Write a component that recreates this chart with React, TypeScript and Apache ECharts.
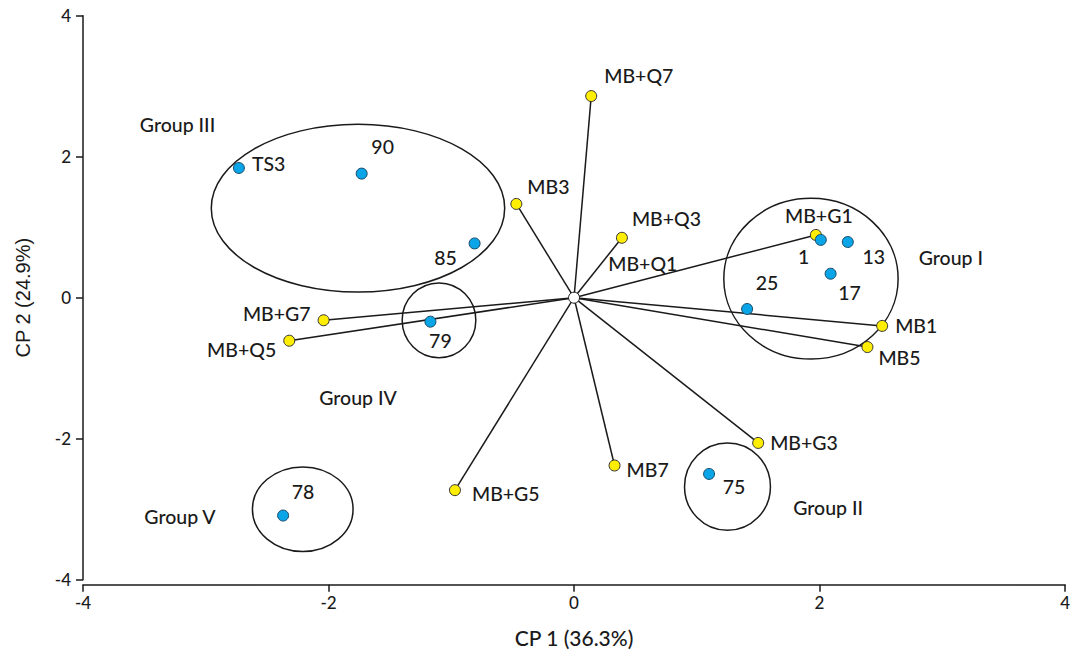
import React, { useEffect, useRef } from "react";
import * as echarts from "echarts";

// Variables (yellow, vectors from origin)
const varNames = ["MB+Q7", "MB3", "MB+Q3", "MB+G1", "MB1", "MB5", "MB+G7", "MB+Q5", "MB+G3", "MB7", "MB+G5"];
const varX = [0.14, -0.47, 0.39, 1.97, 2.51, 2.39, -2.04, -2.32, 1.5, 0.33, -0.97];
const varY = [2.86, 1.33, 0.85, 0.89, -0.4, -0.7, -0.32, -0.61, -2.06, -2.38, -2.73];

// Samples (blue)
const sampleNames = ["TS3", "90", "85", "79", "78", "75", "1", "13", "17", "25"];
const sampleX = [-2.73, -1.73, -0.81, -1.17, -2.37, 1.1, 2.01, 2.23, 2.09, 1.41];
const sampleY = [1.84, 1.76, 0.77, -0.34, -3.09, -2.5, 0.82, 0.79, 0.34, -0.16];

// Group ellipses (centre x, centre y, radius x, radius y in data units)
const groupCx = [1.93, 1.25, -1.76, -1.1, -2.21];
const groupCy = [0.27, -2.68, 1.27, -0.32, -3.0];
const groupRx = [0.71, 0.35, 1.195, 0.3, 0.41];
const groupRy = [1.14, 0.62, 1.19, 0.53, 0.6];

// Free annotations
const noteNames = ["Group I", "Group II", "Group III", "Group IV", "Group V", "MB+Q1"];
const noteX = [3.07, 2.07, -3.23, -1.76, -3.21, 0.56];
const noteY = [0.57, -2.98, 2.45, -1.42, -3.11, 0.48];

// Axis
const axisMin = -4;
const axisMax = 4;
const axisStep = 2;

// Label styles (offsets in px from the point)
const varLabelStyle: [string, number, number][] = [
  ["left", 13, -21],
  ["left", 11, -17],
  ["left", 10, -19],
  ["center", 3, -19],
  ["left", 13, 0],
  ["left", 11, 10],
  ["right", -13, -7],
  ["right", -13, 9],
  ["left", 12, 0],
  ["left", 12, 4],
  ["left", 17, 3],
];
const sampleLabelStyle: [string, number, number][] = [
  ["left", 13, -4],
  ["center", 21, -27],
  ["center", -29, 14],
  ["center", 10, 19],
  ["center", 20, -24],
  ["center", 25, 13],
  ["center", -17, 17],
  ["center", 26, 14],
  ["center", 19, 19],
  ["center", 20, -26],
];

const FONT = "Lato";
const TXT = "#1a1a1a";
const LABEL_SIZE = 19.5;

export default function App() {
  const ref = useRef<HTMLDivElement>(null);
  useEffect(() => {
    if (!ref.current) return;
    const chart = echarts.init(ref.current, null, { renderer: "svg" });
    const mkLabel = (name: string, st: [string, number, number]) => ({
      show: true,
      formatter: name,
      position: "inside",
      align: st[0],
      verticalAlign: "middle",
      offset: [st[1], st[2]],
      color: TXT,
      fontFamily: FONT,
      fontWeight: 500,
      fontSize: LABEL_SIZE,
    });
    chart.setOption({
      animation: false,
      grid: { left: 83, right: 5.5, top: 15.7, bottom: 74.3, containLabel: false },
      xAxis: {
        type: "value",
        min: axisMin,
        max: axisMax,
        interval: axisStep,
        offset: 5,
        splitLine: { show: false },
        axisLine: { show: true, onZero: false, lineStyle: { color: TXT, width: 1.5 } },
        axisTick: { show: true, length: 7, lineStyle: { color: TXT, width: 1.5 } },
        axisLabel: { color: TXT, fontFamily: FONT, fontWeight: 500, fontSize: 17, margin: 9 },
        name: "CP 1 (36.3%)",
        nameLocation: "middle",
        nameGap: 42,
        nameTextStyle: { color: TXT, fontFamily: FONT, fontWeight: 500, fontSize: 21 },
      },
      yAxis: {
        type: "value",
        min: axisMin,
        max: axisMax,
        interval: axisStep,
        splitLine: { show: false },
        axisLine: { show: true, onZero: false, lineStyle: { color: TXT, width: 1.5 } },
        axisTick: { show: true, length: 7, lineStyle: { color: TXT, width: 1.5 } },
        axisLabel: { color: TXT, fontFamily: FONT, fontWeight: 500, fontSize: 17, margin: 12 },
        name: "CP 2 (24.9%)",
        nameLocation: "middle",
        nameGap: 50,
        nameTextStyle: { color: TXT, fontFamily: "Liberation Sans", fontSize: 20 },
      },
      series: [
        {
          type: "custom",
          name: "vectors",
          data: varX.map((x, i) => [x, varY[i]]),
          renderItem: (params: any, api: any) => {
            const o = api.coord([0, 0]);
            const p = api.coord([api.value(0), api.value(1)]);
            return {
              type: "line",
              shape: { x1: o[0], y1: o[1], x2: p[0], y2: p[1] },
              style: { stroke: TXT, lineWidth: 1.5 },
            };
          },
          z: 1,
        },
        {
          type: "custom",
          name: "groups",
          data: groupCx.map((x, i) => [x, groupCy[i], groupRx[i], groupRy[i]]),
          renderItem: (params: any, api: any) => {
            const c = api.coord([api.value(0), api.value(1)]);
            const s = api.size([api.value(2), api.value(3)]);
            return {
              type: "ellipse",
              shape: { cx: c[0], cy: c[1], rx: s[0], ry: s[1] },
              style: { fill: "none", stroke: TXT, lineWidth: 1.5 },
            };
          },
          z: 2,
        },
        {
          type: "scatter",
          name: "origin",
          data: [[0, 0]],
          symbolSize: 11,
          itemStyle: { color: "#ffffff", borderColor: TXT, borderWidth: 1, opacity: 1 },
          z: 10,
        },
        {
          type: "scatter",
          name: "variables",
          data: varX.map((x, i) => ({
            value: [x, varY[i]],
            label: mkLabel(varNames[i], varLabelStyle[i]),
          })),
          symbolSize: 11,
          itemStyle: { color: "#ffee00", borderColor: "#333", borderWidth: 1, opacity: 1 },
          z: 6,
        },
        {
          type: "scatter",
          name: "samples",
          data: sampleX.map((x, i) => ({
            value: [x, sampleY[i]],
            label: mkLabel(sampleNames[i], sampleLabelStyle[i]),
          })),
          symbolSize: 11,
          itemStyle: { color: "#0aa5e6", borderColor: "#1a4a6a", borderWidth: 1, opacity: 1 },
          z: 7,
        },
        {
          type: "custom",
          name: "notes",
          data: noteX.map((x, i) => [x, noteY[i], i]),
          renderItem: (params: any, api: any) => {
            const p = api.coord([api.value(0), api.value(1)]);
            return {
              type: "text",
              x: p[0],
              y: p[1],
              style: {
                text: noteNames[api.value(2)],
                fill: TXT,
                fontFamily: FONT,
                fontWeight: 500,
                fontSize: LABEL_SIZE,
                align: "center",
                verticalAlign: "middle",
              },
            };
          },
          silent: true,
          z: 8,
        },
      ],
    });
    return () => chart.dispose();
  }, []);
  return (
    <div
      ref={ref}
      style={{ position: "fixed", left: 0, top: 0, width: 1073, height: 654, background: "#fff" }}
    />
  );
}
